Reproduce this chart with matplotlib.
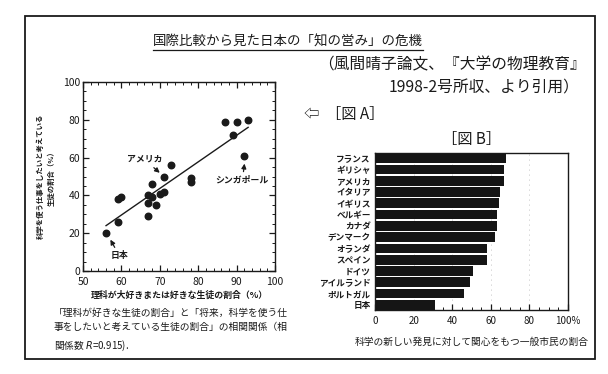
import matplotlib
matplotlib.use("Agg")
import matplotlib.pyplot as plt
from matplotlib.patches import Rectangle
from matplotlib.lines import Line2D
from matplotlib.ticker import MultipleLocator

plt.rcParams['font.family'] = ['Noto Sans CJK JP', 'DejaVu Sans']

# 図A: 理科が好きな生徒の割合 vs 科学を使う仕事をしたい生徒の割合
like_science = [56, 59, 59, 60, 67, 67, 67, 68, 68, 69, 70, 71, 71, 73, 78, 78, 87, 89, 90, 93, 92]
want_science_job = [20, 26, 38, 39, 29, 36, 40, 39, 46, 35, 41, 42, 50, 56, 49, 47, 79, 72, 79, 80, 61]
fit_x = [56, 93]
fit_y = [24, 76]

# 図B: 科学の新しい発見に関心をもつ一般市民の割合
countries = ["フランス", "ギリシャ", "アメリカ", "イタリア", "イギリス", "ベルギー", "カナダ",
             "デンマーク", "オランダ", "スペイン", "ドイツ", "アイルランド", "ポルトガル", "日本"]
interest = [68, 67, 67, 65, 64, 63, 63, 62, 58, 58, 51, 49, 46, 31]
bar_ticks = [0, 20, 40, 60, 80, 100]
bar_tick_labels = ["0", "20", "40", "60", "80", "100%"]

W, H = 608, 374
ink = "#1a1a1a"


def fx(x):
    return x / W


def fy(y):
    return 1 - y / H


fig = plt.figure(figsize=(6.08, 3.74), dpi=100)

# outer frame
fig.add_artist(Rectangle((fx(25), fy(359)), (595 - 25) / W, (359 - 16) / H,
                         transform=fig.transFigure, fill=False, lw=1.3, ec=ink))

# headings
fig.text(fx(288), fy(42), "国際比較から見た日本の「知の営み」の危機", ha="center", va="center",
         fontsize=9.7, color=ink)
fig.add_artist(Line2D([fx(153), fx(423)], [fy(50), fy(50)], transform=fig.transFigure, lw=0.9, color=ink))
fig.text(fx(586), fy(65), "（風間晴子論文、『大学の物理教育』", ha="right", va="center",
         fontsize=11.3, color=ink)
fig.text(fx(580), fy(88), "1998-2号所収、より引用）", ha="right", va="center",
         fontsize=11.3, color=ink)
fig.text(fx(304), fy(115), "⇦  ［図 A］", ha="left", va="center", fontsize=11, color=ink)
fig.text(fx(472), fy(140), "［図 B］", ha="center", va="center", fontsize=11, color=ink)

# scatter
ax = fig.add_axes([fx(83), fy(271), (275 - 83) / W, (271 - 82) / H])
ax.scatter(like_science, want_science_job, s=22, color=ink, zorder=3)
ax.plot(fit_x, fit_y, color=ink, lw=1.0)
ax.set_xlim(50, 100)
ax.set_ylim(0, 100)
ax.xaxis.set_major_locator(MultipleLocator(10))
ax.xaxis.set_minor_locator(MultipleLocator(2))
ax.yaxis.set_major_locator(MultipleLocator(20))
ax.yaxis.set_minor_locator(MultipleLocator(5))
ax.tick_params(which="both", direction="in", top=True, right=True, labelsize=7.5, colors=ink)
ax.tick_params(axis="x", pad=4)
ax.tick_params(axis="y", pad=2)
ax.tick_params(which="major", length=4, width=0.9)
ax.tick_params(which="minor", length=2, width=0.7)
for s in ax.spines.values():
    s.set_linewidth(1.0)
    s.set_color(ink)
ax.set_xlabel("理科が大好きまたは好きな生徒の割合（%）", fontsize=6.4, fontweight="bold", color=ink, labelpad=3)
ax.set_ylabel("科学を使う仕事をしたいと考えている\n生徒の割合（%）", fontsize=5.3, fontweight="bold",
              color=ink, labelpad=6, linespacing=1.6)

arrow = dict(arrowstyle="-|>", color=ink, lw=0.9, mutation_scale=7, shrinkA=1, shrinkB=3)
ax.annotate("アメリカ", xy=(70.8, 50.5), xytext=(66, 59), fontsize=6.4, fontweight="bold",
            ha="center", va="center", color=ink, arrowprops=arrow)
ax.annotate("シンガポール", xy=(92.2, 59), xytext=(91.5, 48), fontsize=6.4, fontweight="bold",
            ha="center", va="center", color=ink, arrowprops=arrow)
ax.annotate("日本", xy=(56.6, 18.5), xytext=(59.5, 8), fontsize=6.4, fontweight="bold",
            ha="center", va="center", color=ink, arrowprops=arrow)

fig.text(fx(54), fy(330),
         "「理科が好きな生徒の割合」と「将来，科学を使う仕\n事をしたいと考えている生徒の割合」の相関関係（相\n関係数 $R$=0.915).",
         ha="left", va="center", fontsize=7.0, color=ink, linespacing=1.6)

# bar chart
bx = fig.add_axes([fx(375), fy(310), (568 - 375) / W, (310 - 153) / H])
ypos = list(range(len(countries)))
bx.barh(ypos, interest, height=0.86, color="#151515", zorder=2)
for g in bar_ticks[1:-1]:
    bx.axvline(g, color="#b0b0b0", lw=0.6, ls=(0, (1, 5)), zorder=1)
bx.set_xlim(0, 100)
bx.set_ylim(len(countries) - 0.55, -0.45)
bx.set_yticks(ypos)
bx.set_yticklabels(countries, fontsize=6.2, fontweight="bold", color=ink)
bx.set_xticks(bar_ticks)
bx.set_xticklabels(bar_tick_labels)
bx.xaxis.set_minor_locator(MultipleLocator(5))
bx.tick_params(axis="y", length=0, pad=3)
bx.tick_params(axis="x", which="both", direction="in", labelsize=7, colors=ink, pad=4)
bx.tick_params(axis="x", which="major", length=4, width=0.9)
bx.tick_params(axis="x", which="minor", length=2, width=0.7)
for s in bx.spines.values():
    s.set_linewidth(1.0)
    s.set_color(ink)
bx.set_xlabel("科学の新しい発見に対して関心をもつ一般市民の割合", fontsize=7, color=ink, labelpad=8)

fig.savefig("out.png", dpi=100)
